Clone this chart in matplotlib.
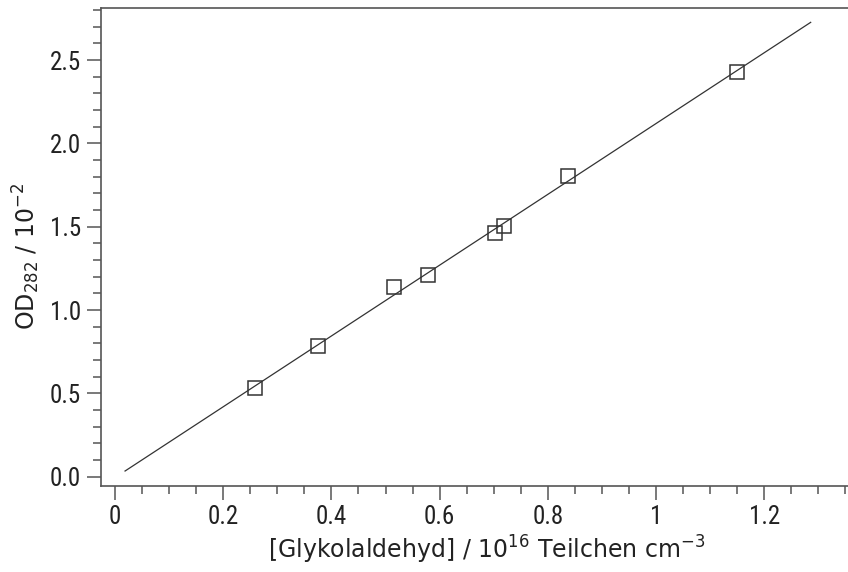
import matplotlib
matplotlib.use("Agg")
import matplotlib.pyplot as plt
import matplotlib.ticker as mticker
from matplotlib import font_manager

# Measured points (Glykolaldehyd concentration vs. OD at 282 nm)
conc = [0.259, 0.376, 0.515, 0.579, 0.703, 0.719, 0.838, 1.149]
od = [0.530, 0.786, 1.138, 1.208, 1.462, 1.504, 1.804, 2.430]

# Linear fit line, drawn between these end points
fit_x = [0.0185, 1.286]
fit_y = [0.034, 2.726]

plt.rcParams["mathtext.default"] = "regular"
plt.rcParams["font.family"] = ["DejaVu Sans"]

# narrow font for the tick numbers if one is there
installed = {f.name for f in font_manager.fontManager.ttflist}
narrow = [n for n in ["Liberation Sans Narrow", "Roboto Condensed",
                      "Open Sans Condensed", "DejaVu Sans Condensed"] if n in installed]
tick_family = narrow[:1] + ["DejaVu Sans"]
tick_size = 18 if narrow else 15

fig = plt.figure(figsize=(8.48, 5.72), dpi=100)
ax = fig.add_axes([0.1187, 0.1509, 0.8813, 0.8351])

ax.plot(fit_x, fit_y, color="#333333", lw=0.9)
ax.plot(conc, od, linestyle="none", marker="s", markersize=10,
        markerfacecolor="none", markeredgecolor="#333333", markeredgewidth=1.1)

ax.set_xlim(-0.0266, 1.355)
ax.set_ylim(-0.054, 2.812)

ax.xaxis.set_major_locator(mticker.MultipleLocator(0.2))
ax.xaxis.set_minor_locator(mticker.MultipleLocator(0.05))
ax.yaxis.set_major_locator(mticker.MultipleLocator(0.5))
ax.yaxis.set_minor_locator(mticker.MultipleLocator(0.1))
ax.xaxis.set_major_formatter(mticker.FuncFormatter(lambda v, p: f"{v:g}"))
ax.yaxis.set_major_formatter(mticker.FormatStrFormatter("%.1f"))

for s in ["left", "bottom", "top"]:
    ax.spines[s].set_color("#555555")
    ax.spines[s].set_linewidth(1.2)
ax.spines["right"].set_visible(False)

ax.tick_params(which="both", direction="out", color="#555555", width=1.1,
               top=False, right=False)
ax.tick_params(which="major", length=10, pad=4, labelcolor="#222222")
ax.tick_params(which="minor", length=5.5)
for lab in ax.get_xticklabels() + ax.get_yticklabels():
    lab.set_fontfamily(tick_family)
    lab.set_fontsize(tick_size)

ax.set_xlabel("[Glykolaldehyd] / 10$^{16}$ Teilchen cm$^{-3}$", fontsize=17, color="#222222")
ax.set_ylabel("OD$_{282}$ / 10$^{-2}$", fontsize=17, color="#222222")
ax.xaxis.set_label_coords(0.517, -0.10)
ax.yaxis.set_label_coords(-0.078, 0.48)

fig.savefig("out.png", dpi=100)
